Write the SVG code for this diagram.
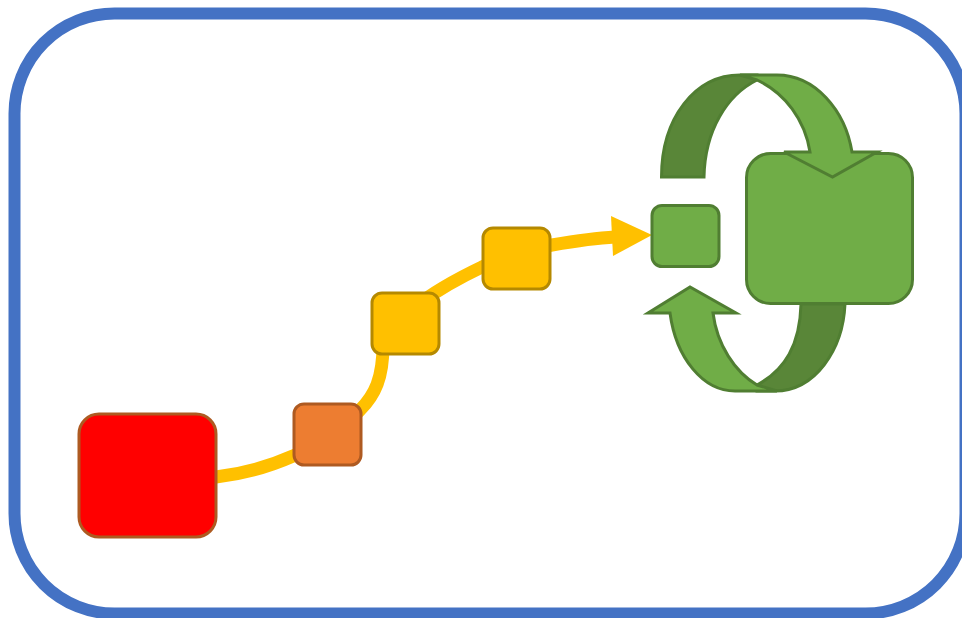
<svg xmlns="http://www.w3.org/2000/svg" width="962" height="618" viewBox="0 0 962 618">
<style>
.r{stroke-width:3}
.g{fill:#70ad47;stroke:#507e32;stroke-width:3}
.d{fill:#598638;stroke:#507e32;stroke-width:3}
.y{fill:#ffc000;stroke:#b58900;stroke-width:3}
</style>
<rect id="frame" x="14.500" y="13.500" width="951" height="600" rx="100" fill="#fff" stroke="#4472c4" stroke-width="12"/>
<g id="connectors">
<path d="M216 477C250 473 275 464 293 456C315 447 340 431 360 410C375 395 383 378 383 345C395 315 440 287 482 267C505 257 530 249 552 245C575 241 595 238 615 237" fill="none" stroke="#ffc000" stroke-width="13"/>
<polygon points="611,216 652,235 613,256" fill="#ffc000"/>
</g>
<g id="big-red"><rect x="79" y="414" width="137" height="123" rx="20" fill="#f00" stroke="#ae5a21" class="r"/></g>
<g id="orange"><rect x="294" y="404" width="67" height="61" rx="10" fill="#ed7d31" stroke="#ae5a21" class="r"/></g>
<g id="yellow-1"><rect class="y" x="372" y="293" width="67" height="61" rx="10"/></g>
<g id="yellow-2"><rect class="y" x="483" y="228" width="67" height="61" rx="10"/></g>
<g id="small-green"><rect class="g" x="652" y="205.500" width="67" height="61" rx="10"/></g>
<g id="big-green"><rect class="g" x="746.500" y="153.500" width="166" height="150" rx="24"/></g>
<g id="arc-top">
<path class="d" d="M661.500 177C661.500 118 695 75 740 75H757L757 80C727 95 705 130 704 177Z"/>
<path class="g" d="M740 75H777C815 75 845 110 852 152H877L832.500 177L784 152H810C805 120 785 93 757 80Z"/>
</g>
<g id="arc-bottom">
<path class="d" d="M845 304C843 350 815 391 775 391H757L757 385C785 370 800 345 801 304Z"/>
<path class="g" d="M777 391H735C703 391 676 358 670 313H648L690 287L736 313H713C717 345 735 372 757 385Z"/>
</g>
</svg>
